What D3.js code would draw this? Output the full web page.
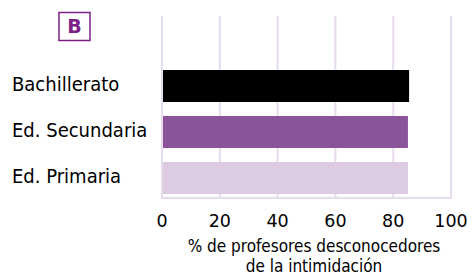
<!DOCTYPE html>
<html>
<head>
<meta charset="utf-8">
<script src="https://cdn.jsdelivr.net/npm/d3@7"></script>
<style>
  body { margin: 0; background: #fff; }
  svg { display: block; font-family: "DejaVu Sans", sans-serif; }
  .cond { font-family: "DejaVu Sans Condensed", "DejaVu Sans", sans-serif; font-stretch: condensed; }
</style>
</head>
<body>
<div id="chart"></div>
<script>
  // data
  const categories = ["Bachillerato", "Ed. Secundaria", "Ed. Primaria"];
  const values = [85.5, 85.1, 85.1];
  const barColours = ["#000000", "#8a5598", "#dccbe2"];
  const tickValues = [0, 20, 40, 60, 80, 100];
  const titleLines = ["% de profesores desconocedores", "de la intimidación"];
  const panelLabel = "B";

  const width = 473;
  const height = 277;
  const gridColour = "#e7dbee";
  const accent = "#7b1f87";

  const svg = d3
    .select("#chart")
    .append("svg")
    .attr("width", width)
    .attr("height", height);

  const x = d3.scaleLinear().domain([0, 100]).range([162, 451]);

  const y = d3
    .scaleBand()
    .domain(categories)
    .range([63, 201])
    .paddingInner(14 / 46)
    .paddingOuter(7 / 46);

  const gridTop = 16;
  const gridBottom = 198;

  // Gridlines
  svg
    .append("g")
    .selectAll("line")
    .data(tickValues)
    .enter()
    .append("line")
    .attr("x1", (d) => x(d))
    .attr("x2", (d) => x(d))
    .attr("y1", gridTop)
    .attr("y2", gridBottom)
    .attr("stroke", gridColour)
    .attr("stroke-width", 2);

  svg
    .append("line")
    .attr("x1", x(0) - 1)
    .attr("x2", x(100) + 1)
    .attr("y1", gridBottom)
    .attr("y2", gridBottom)
    .attr("stroke", gridColour)
    .attr("stroke-width", 2);

  // Bars
  svg
    .append("g")
    .selectAll("rect")
    .data(categories)
    .enter()
    .append("rect")
    .attr("x", x(0) + 1)
    .attr("y", (d) => y(d))
    .attr("width", (d, i) => x(values[i]) - x(0) - 1)
    .attr("height", y.bandwidth())
    .attr("fill", (d, i) => barColours[i]);

  // Category labels
  svg
    .append("g")
    .selectAll("text")
    .data(categories)
    .enter()
    .append("text")
    .attr("class", "cond")
    .attr("x", 12)
    .attr("y", (d) => y(d) + y.bandwidth() / 2 - 2)
    .attr("dy", "0.36em")
    .attr("font-size", 20)
    .attr("fill", "#000")
    .text((d) => d);

  // Tick labels
  svg
    .append("g")
    .selectAll("text")
    .data(tickValues)
    .enter()
    .append("text")
    .attr("x", (d) => x(d))
    .attr("y", 227)
    .attr("text-anchor", "middle")
    .attr("font-size", 17.5)
    .attr("fill", "#000")
    .text((d) => d);

  // Axis title
  svg
    .append("g")
    .selectAll("text")
    .data(titleLines)
    .enter()
    .append("text")
    .attr("class", "cond")
    .attr("x", 314)
    .attr("y", (d, i) => 252 + i * 20)
    .attr("text-anchor", "middle")
    .attr("font-size", 17)
    .attr("fill", "#000")
    .text((d) => d);

  // Panel label
  svg
    .append("rect")
    .attr("x", 59)
    .attr("y", 12.5)
    .attr("width", 31)
    .attr("height", 28)
    .attr("fill", "none")
    .attr("stroke", accent)
    .attr("stroke-width", 1.5);

  svg
    .append("text")
    .attr("x", 74.5)
    .attr("y", 33)
    .attr("text-anchor", "middle")
    .attr("font-size", 19)
    .attr("font-weight", "bold")
    .attr("fill", accent)
    .text(panelLabel);
</script>
</body>
</html>
